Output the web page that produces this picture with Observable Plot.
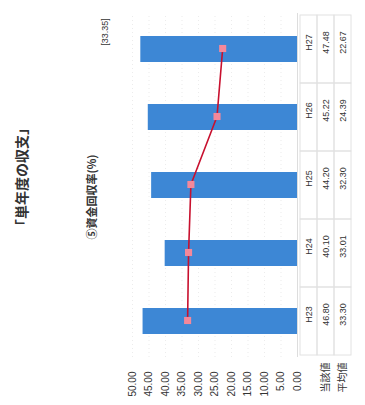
<!DOCTYPE html>
<html>
<head>
<meta charset="utf-8">
<script src="https://cdn.jsdelivr.net/npm/d3@7"></script>
<script src="https://cdn.jsdelivr.net/npm/@observablehq/plot@0.6"></script>
<style>
  html, body { margin: 0; padding: 0; background: #fff; }
  /* The sheet is laid out landscape (405 × 365) and turned a quarter turn onto the page. */
  #page {
    position: absolute; left: 0; top: 0; width: 405px; height: 365px;
    transform-origin: 0 0; transform: translate(0, 405px) rotate(-90deg);
    background: #fff; color: #333;
    font-family: "Noto Sans CJK JP", sans-serif;
  }
  .lbl { position: absolute; white-space: nowrap; transform: translate(-50%, -50%); line-height: 1; }
  #title { left: 228px; top: 21px; font-size: 14px; font-weight: bold; }
  #subtitle { left: 208px; top: 91px; font-size: 11px; font-weight: bold; }
  #note { left: 373px; top: 105px; font-size: 9px; font-family: "Liberation Sans", Arial, sans-serif; }
  #chart { position: absolute; left: 0; top: 0; }
  #table { position: absolute; left: 0; top: 297px; }
</style>
</head>
<body>
<div id="page">
  <div id="title" class="lbl"></div>
  <div id="subtitle" class="lbl"></div>
  <div id="note" class="lbl"></div>
  <div id="chart"></div>
  <div id="table"></div>
</div>
<script>
// Fiscal years and the two series of the fund recovery rate (%)
const years = ["H23", "H24", "H25", "H26", "H27"];
const currentValues = [46.80, 40.10, 44.20, 45.22, 47.48];   // 当該値 (bars)
const averageValues = [33.30, 33.01, 32.30, 24.39, 22.67];   // 平均値 (line)
const valueTicks = [0, 5, 10, 15, 20, 25, 30, 35, 40, 45, 50];
const rowLabels = ["年度", "当該値", "平均値"];
const titleText = "「単年度の収支」";
const subtitleText = "⑤資金回収率(%)";
const noteText = "[33.35]";

document.getElementById("title").textContent = titleText;
document.getElementById("subtitle").textContent = subtitleText;
document.getElementById("note").textContent = noteText;

const W = 405, ML = 48, MR = 13;
const fmt = d3.format(".2f");
const rows = years.map((year, i) => ({year, current: currentValues[i], average: averageValues[i]}));

const chart = Plot.plot({
  width: W, height: 305,
  marginLeft: ML, marginRight: MR, marginTop: 132, marginBottom: 8,
  style: {background: "transparent", fontFamily: "'Liberation Sans', Arial, sans-serif", fontSize: "10px", color: "#333"},
  x: {domain: years, padding: 0, axis: null},
  y: {domain: [0, 50], axis: null},
  marks: [
    Plot.gridY(valueTicks, {stroke: "#aaa", strokeOpacity: 0.22, strokeDasharray: "1,3"}),
    Plot.axisY(valueTicks, {tickSize: 0, tickPadding: 15, tickFormat: fmt, label: null}),
    Plot.ruleY([0], {stroke: "#ddd"}),
    Plot.barY(rows, {x: "year", y: "current", fill: "#3d87d5", insetLeft: 21, insetRight: 21}),
    Plot.line(rows, {x: "year", y: "average", stroke: "#c8102e", strokeWidth: 1.6}),
    Plot.dot(rows, {x: "year", y: "average", symbol: "square", r: 4, fill: "#f4889a"})
  ]
});
document.getElementById("chart").append(chart);

// Data table under the plot: year row, then one row per series
const tableData = years.flatMap((year, i) => [
  {year, row: rowLabels[0], text: year},
  {year, row: rowLabels[1], text: fmt(currentValues[i])},
  {year, row: rowLabels[2], text: fmt(averageValues[i])}
]);

const table = Plot.plot({
  width: W, height: 68,
  marginLeft: ML, marginRight: MR, marginTop: 2, marginBottom: 13,
  style: {background: "transparent", fontFamily: "'Liberation Sans', Arial, sans-serif", fontSize: "9px", color: "#333"},
  x: {domain: years, padding: 0, axis: null},
  y: {domain: rowLabels, padding: 0, axis: null},
  marks: [
    Plot.cell(tableData, {x: "year", y: "row", fill: "none", stroke: "#e2e2e2"}),
    Plot.text(tableData, {x: "year", y: "row", text: "text", dx: 6, fill: "#333"}),
    Plot.axisY(rowLabels.slice(1), {tickSize: 0, tickPadding: 21, textAnchor: "middle", label: null,
      fontFamily: "'Noto Sans CJK JP', sans-serif", fontSize: 10, fill: "#333"})
  ]
});
document.getElementById("table").append(table);
</script>
</body>
</html>
